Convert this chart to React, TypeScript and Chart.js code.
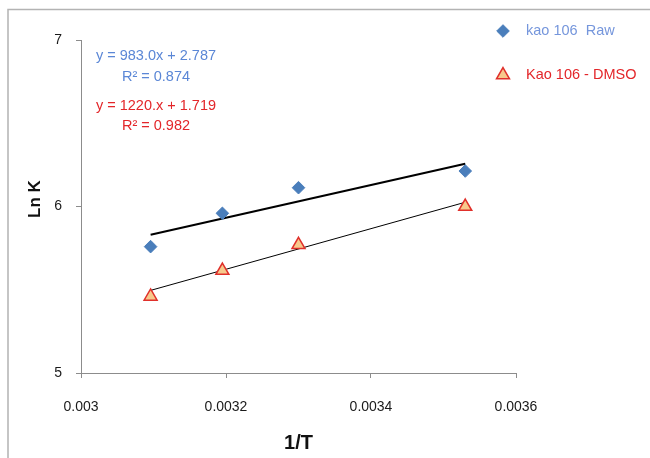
import React, { useEffect, useRef } from "react";
import { Chart, registerables } from "chart.js";

Chart.register(...registerables);

// Data
const invT: number[] = [0.003096, 0.003195, 0.0033, 0.00353];
const lnKRaw: number[] = [5.759, 5.959, 6.113, 6.213];
const lnKDmso: number[] = [5.46, 5.615, 5.77, 6.0];

// Trendline coefficients as printed on the chart
const rawSlope = 983.0;
const rawIntercept = 2.787;
const dmsoSlope = 1220.0;
const dmsoIntercept = 1.719;

const xTickValues: number[] = [0.003, 0.0032, 0.0034, 0.0036];
const xTickLabels: string[] = ["0.003", "0.0032", "0.0034", "0.0036"];
const yTickValues: number[] = [5, 6, 7];
const yTickLabels: string[] = ["5", "6", "7"];

const seriesNames: string[] = ["kao 106  Raw", "Kao 106 - DMSO"];
const rawEqText = ["y = 983.0x + 2.787", "R\u00B2 = 0.874"];
const dmsoEqText = ["y = 1220.x + 1.719", "R\u00B2 = 0.982"];
const xTitle = "1/T";
const yTitle = "Ln K";

const BLUE_MARK = "#4a7ebb";
const BLUE_TEXT = "#5b87d6";
const BLUE_LEGEND = "#7596dc";
const RED_TEXT = "#e3262a";
const TRI_FILL = "#f7c98c";
const TRI_STROKE = "#e0302b";
const FONT = "'Liberation Sans', Arial, sans-serif";

function drawMarker(ctx: CanvasRenderingContext2D, style: string, x: number, y: number, r: number) {
  ctx.beginPath();
  if (style === "rectRot") {
    ctx.moveTo(x, y - r);
    ctx.lineTo(x + r, y);
    ctx.lineTo(x, y + r);
    ctx.lineTo(x - r, y);
  } else {
    for (let i = 0; i < 3; i++) {
      const a = (i * 2 * Math.PI) / 3;
      const px = x + Math.sin(a) * r;
      const py = y - Math.cos(a) * r;
      if (i === 0) ctx.moveTo(px, py);
      else ctx.lineTo(px, py);
    }
  }
  ctx.closePath();
  ctx.fill();
  ctx.stroke();
}

const decorPlugin = {
  id: "decor",
  afterDraw(chart: any) {
    const ctx = chart.ctx as CanvasRenderingContext2D;
    const xs = chart.scales.x;
    ctx.save();
    // outer chart border (top + left visible)
    ctx.strokeStyle = "#b3b3b3";
    ctx.lineWidth = 1.5;
    ctx.beginPath();
    ctx.moveTo(8, 458);
    ctx.lineTo(8, 9.5);
    ctx.lineTo(650, 9.5);
    ctx.stroke();

    // axis titles
    ctx.fillStyle = "#111111";
    ctx.textAlign = "center";
    ctx.textBaseline = "middle";
    ctx.font = `bold 20px ${FONT}`;
    ctx.fillText(xTitle, (xs.left + xs.right) / 2, 443);
    ctx.save();
    ctx.translate(35, 199);
    ctx.rotate(-Math.PI / 2);
    ctx.font = `bold 17px ${FONT}`;
    ctx.fillText(yTitle, 0, 0);
    ctx.restore();

    // trendline equations
    ctx.font = `14.5px ${FONT}`;
    ctx.fillStyle = BLUE_TEXT;
    ctx.fillText(rawEqText[0], 156, 56);
    ctx.fillText(rawEqText[1], 156, 77);
    ctx.fillStyle = RED_TEXT;
    ctx.fillText(dmsoEqText[0], 156, 106);
    ctx.fillText(dmsoEqText[1], 156, 126);

    // legend
    const ds = chart.data.datasets;
    const items = [
      { ds: ds[2], text: seriesNames[0], color: BLUE_LEGEND, y: 31 },
      { ds: ds[3], text: seriesNames[1], color: RED_TEXT, y: 75 },
    ];
    ctx.textAlign = "left";
    for (const it of items) {
      ctx.fillStyle = it.ds.backgroundColor;
      ctx.strokeStyle = it.ds.borderColor;
      ctx.lineWidth = it.ds.borderWidth;
      drawMarker(ctx, it.ds.pointStyle, 503, it.y, it.ds.pointRadius);
      ctx.fillStyle = it.color;
      ctx.font = `14.5px ${FONT}`;
      ctx.fillText(it.text, 526, it.y);
    }
    ctx.restore();
  },
};

export default function App() {
  const ref = useRef<HTMLCanvasElement>(null);
  useEffect(() => {
    if (!ref.current) return;
    const xMin = invT[0];
    const xMax = invT[invT.length - 1];
    const chart = new Chart(ref.current, {
      type: "scatter",
      data: {
        datasets: [
          {
            label: "raw trend",
            data: [
              { x: xMin, y: rawSlope * xMin + rawIntercept },
              { x: xMax, y: rawSlope * xMax + rawIntercept },
            ],
            showLine: true,
            borderColor: "#000000",
            borderWidth: 2.2,
            pointRadius: 0,
            order: 3,
          },
          {
            label: "dmso trend",
            data: [
              { x: xMin, y: dmsoSlope * xMin + dmsoIntercept },
              { x: xMax, y: dmsoSlope * xMax + dmsoIntercept },
            ],
            showLine: true,
            borderColor: "#000000",
            borderWidth: 1,
            pointRadius: 0,
            order: 4,
          },
          {
            label: seriesNames[0],
            data: invT.map((x, i) => ({ x, y: lnKRaw[i] })),
            pointStyle: "rectRot",
            pointRadius: 6.3,
            backgroundColor: BLUE_MARK,
            borderColor: BLUE_MARK,
            borderWidth: 1,
            order: 1,
          } as any,
          {
            label: seriesNames[1],
            data: invT.map((x, i) => ({ x, y: lnKDmso[i] })),
            pointStyle: "triangle",
            pointRadius: 7.5,
            backgroundColor: TRI_FILL,
            borderColor: TRI_STROKE,
            borderWidth: 1.5,
            order: 2,
          } as any,
        ],
      },
      options: {
        animation: false,
        responsive: false,
        devicePixelRatio: 1,
        layout: { padding: { left: 0, top: 40, right: 134, bottom: 0 } },
        plugins: { legend: { display: false }, tooltip: { enabled: false } },
        scales: {
          x: {
            type: "linear",
            min: xTickValues[0],
            max: xTickValues[xTickValues.length - 1],
            afterBuildTicks: (s: any) => {
              s.ticks = xTickValues.map((v) => ({ value: v }));
            },
            afterFit: (s: any) => {
              s.height = 85;
            },
            ticks: {
              callback: (_v: any, i: number) => xTickLabels[i],
              color: "#1a1a1a",
              font: { family: FONT, size: 14 },
              padding: 21,
              maxRotation: 0,
            },
            grid: {
              drawOnChartArea: false,
              drawTicks: true,
              tickLength: 5,
              color: "#8c8c8c",
            },
            border: { color: "#8c8c8c", width: 1 },
          },
          y: {
            type: "linear",
            min: yTickValues[0],
            max: yTickValues[yTickValues.length - 1],
            afterBuildTicks: (s: any) => {
              s.ticks = yTickValues.map((v) => ({ value: v }));
            },
            afterFit: (s: any) => {
              s.width = 81;
            },
            ticks: {
              callback: (_v: any, i: number) => yTickLabels[i],
              color: "#1a1a1a",
              font: { family: FONT, size: 14 },
              padding: 14,
            },
            grid: {
              drawOnChartArea: false,
              drawTicks: true,
              tickLength: 5,
              color: "#8c8c8c",
            },
            border: { color: "#8c8c8c", width: 1 },
          },
        },
      },
      plugins: [decorPlugin],
    } as any);
    return () => chart.destroy();
  }, []);
  return (
    <div style={{ position: "fixed", left: 0, top: 0, width: 650, height: 458, background: "#ffffff" }}>
      <canvas ref={ref} width={650} height={458} style={{ display: "block" }} />
    </div>
  );
}
